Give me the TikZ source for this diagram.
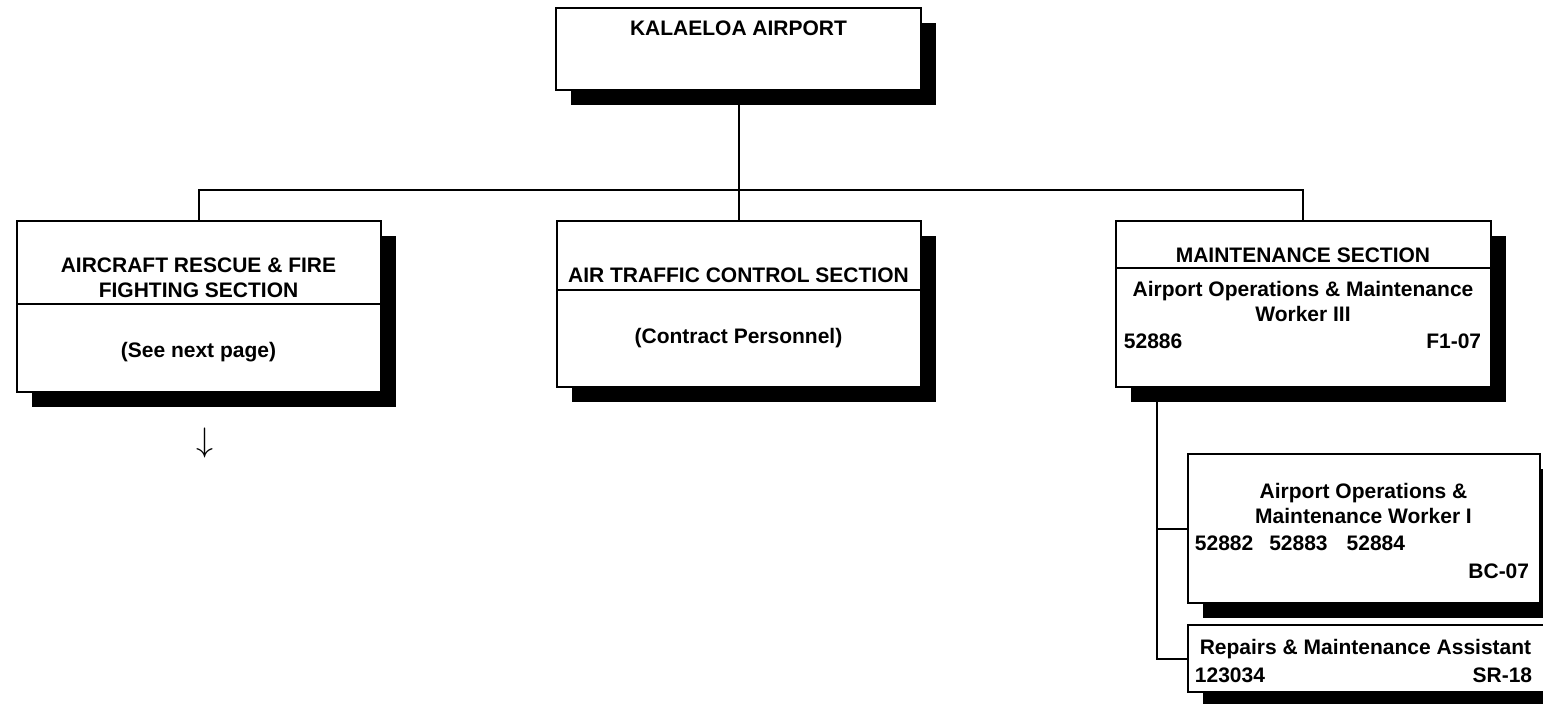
\documentclass[tikz,border=0pt]{standalone}
\usepackage{fontspec}
\setmainfont{Liberation Sans}
\usetikzlibrary{positioning, shadows}

\begin{document}
\begin{tikzpicture}[
    box/.style={draw, line width=1pt, fill=white, inner sep=0pt, outer sep=0pt, drop shadow={shadow xshift=7.5pt, shadow yshift=-7.5pt, fill=black, opacity=1}},
    hd/.style={font=\bfseries\fontsize{10.5}{12.5}\selectfont, inner sep=0pt, align=center},
    link/.style={line width=1pt}
]
    \useasboundingbox (0,0) rectangle (771.5pt,-351.5pt);

    % Airport
    \node[box, minimum width=182.5pt, minimum height=41pt, anchor=north west] (kal) at (278pt,-4pt) {};
    \node[hd, anchor=base, yshift=-13.5pt] (kaltitle) at (kal.north) {KALAELOA AIRPORT};

    % Air traffic control
    \node[box, minimum width=182pt, minimum height=34.5pt, below=65.5pt of kal] (atchead) {};
    \node[box, minimum width=182pt, minimum height=48.5pt, below=0pt of atchead] (atcbody) {};
    \node[hd, anchor=base, yshift=-30.5pt] (atctitle) at (atchead.north) {AIR TRAFFIC CONTROL SECTION};
    \node[hd, anchor=base, yshift=-26.5pt] (atcnote) at (atcbody.north) {(Contract Personnel)};

    % Rescue & fire fighting
    \node[box, minimum width=182pt, minimum height=41.5pt, left=88pt of atchead.north west, anchor=north east] (arffhead) {};
    \node[box, minimum width=182pt, minimum height=44pt, below=0pt of arffhead] (arffbody) {};
    \node[hd, anchor=north, yshift=-18pt] (arfftitle) at (arffhead.north) {AIRCRAFT RESCUE \& FIRE\\FIGHTING SECTION};
    \node[hd, anchor=base, yshift=-26.5pt] (arffnote) at (arffbody.north) {(See next page)};
    \node[below=17.5pt of arffbody, xshift=3pt, inner sep=0pt, scale=1.7, transform shape] (arffnext) {$\downarrow$};

    % Maintenance
    \node[box, minimum width=187.5pt, minimum height=23.5pt, right=97.5pt of atchead.north east, anchor=north west] (mnthead) {};
    \node[box, minimum width=187.5pt, minimum height=59.5pt, below=0pt of mnthead] (mntbody) {};
    \node[hd, anchor=base, yshift=-20.5pt] (mnttitle) at (mnthead.north) {MAINTENANCE SECTION};
    \node[hd, anchor=north, yshift=-6.5pt] (mntjob) at (mntbody.north) {Airport Operations \& Maintenance\\Worker III};
    \node[hd, anchor=base west, xshift=4pt, yshift=-40pt] (mntnum) at (mntbody.north west) {52886};
    \node[hd, anchor=base east, xshift=-4.5pt, yshift=-40pt] (mntgrade) at (mntbody.north east) {F1-07};

    % Worker I
    \node[box, minimum width=176pt, minimum height=74.5pt, below=33.5pt of mntbody.south west, anchor=north west, xshift=36pt] (wrk1) {};
    \node[hd, anchor=north, yshift=-14.3pt] (wrk1job) at (wrk1.north) {Airport Operations \&\\Maintenance Worker I};
    \node[hd, anchor=base west, xshift=3.5pt, yshift=-48pt] (wrk1num) at (wrk1.north west) {52882\hspace{8pt}52883\hspace{9.5pt}52884};
    \node[hd, anchor=base east, xshift=-5pt, yshift=-62pt] (wrk1grade) at (wrk1.north east) {BC-07};

    % Assistant
    \node[box, minimum width=178pt, minimum height=33.5pt, below=11pt of wrk1.south west, anchor=north west] (ast) {};
    \node[hd, anchor=base, yshift=-14.5pt] (astjob) at (ast.north) {Repairs \& Maintenance Assistant};
    \node[hd, anchor=base west, xshift=3.5pt, yshift=-28.5pt] (astnum) at (ast.north west) {123034};
    \node[hd, anchor=base east, xshift=-5.5pt, yshift=-28.5pt] (astgrade) at (ast.north east) {SR-18};

    % Lines
    \draw[link] (kal) -- (atchead);
    \draw[link] (arffhead.north) -- ++(0,15.5pt) -| (mnthead.north);
    \coordinate[right=20.5pt of mntbody.south west] (mnttrunk);
    \draw[link] (mnttrunk) |- (wrk1);
    \draw[link] (mnttrunk) |- (ast);

\end{tikzpicture}
\end{document}
